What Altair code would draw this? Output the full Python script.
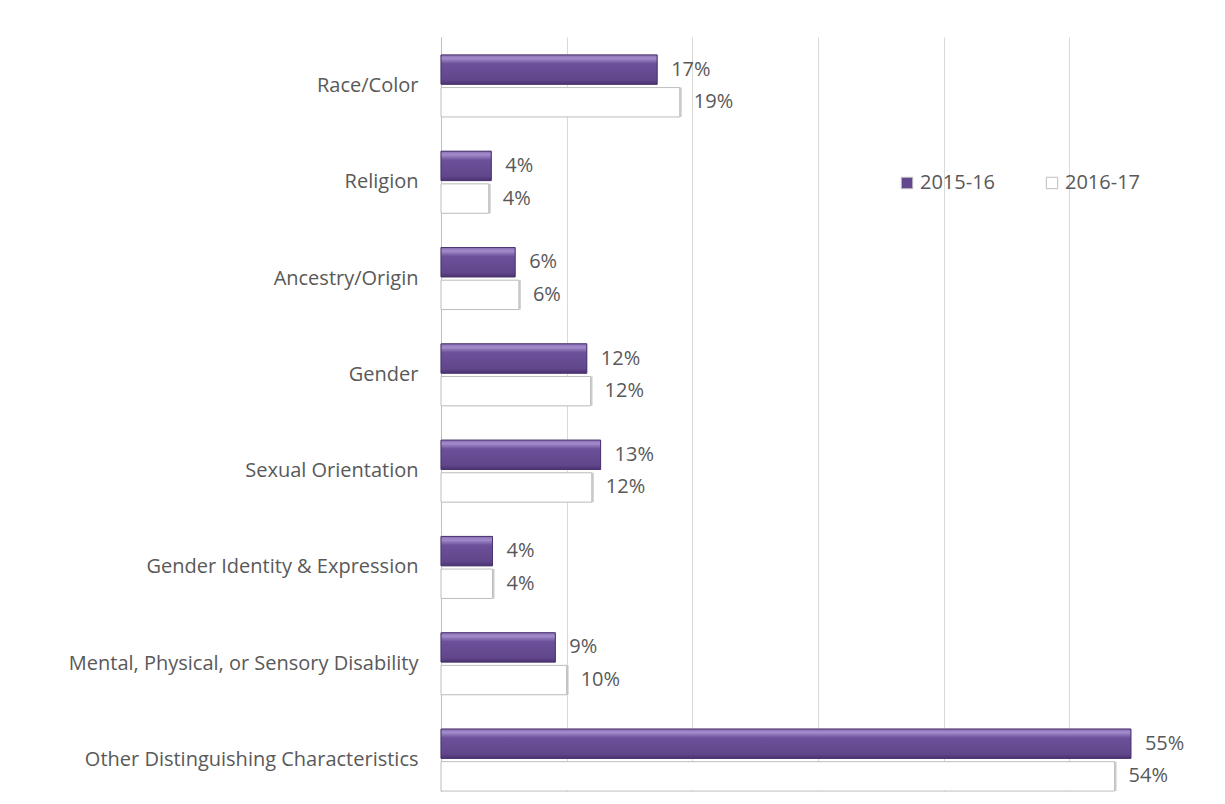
import altair as alt
import pandas as pd

categories = [
    "Race/Color",
    "Religion",
    "Ancestry/Origin",
    "Gender",
    "Sexual Orientation",
    "Gender Identity & Expression",
    "Mental, Physical, or Sensory Disability",
    "Other Distinguishing Characteristics",
]
series = ["2015-16", "2016-17"]
values_2015 = [0.172, 0.040, 0.059, 0.116, 0.127, 0.041, 0.091, 0.549]
values_2016 = [0.190, 0.038, 0.062, 0.119, 0.120, 0.041, 0.100, 0.536]
x_ticks = [0, 0.1, 0.2, 0.3, 0.4, 0.5, 0.6]

rows = []
for c, a, b in zip(categories, values_2015, values_2016):
    rows.append({"cat": c, "series": series[0], "value": a})
    rows.append({"cat": c, "series": series[1], "value": b})
df = pd.DataFrame(rows)

FONT = "Open Sans"
TXT = "#595959"
FS = 20

y_enc = alt.Y(
    "cat:N",
    sort=categories,
    title=None,
    scale=alt.Scale(paddingInner=0.356, paddingOuter=0.098, align=0.95),
    axis=alt.Axis(
        ticks=False,
        domainColor="#bfbfbf",
        labelFont=FONT,
        labelFontSize=FS,
        labelColor=TXT,
        labelPadding=23,
        labelLimit=425,
        minExtent=433,
        maxExtent=433,
    ),
)
yoff_enc = alt.YOffset("series:N", sort=series, scale=alt.Scale(paddingInner=0.1, paddingOuter=0))
x_enc = alt.X(
    "value:Q",
    title=None,
    scale=alt.Scale(domain=[0, 0.6], nice=False),
    axis=alt.Axis(
        values=x_ticks,
        labels=False,
        ticks=False,
        domain=False,
        grid=True,
        gridColor="#d9d9d9",
        gridWidth=1,
        minExtent=0,
        maxExtent=0,
    ),
)

base = alt.Chart(df).encode(y=y_enc, yOffset=yoff_enc, x=x_enc)

shadow = base.transform_filter(alt.datum.series == series[1]).mark_bar(
    color="#bdbdbd", opacity=0.75, xOffset=2, yOffset=4
)

main = base.mark_bar(stroke="#bdbdbd", strokeWidth=1).encode(
    color=alt.Color(
        "series:N",
        sort=series,
        scale=alt.Scale(domain=series, range=["#64488f", "#ffffff"]),
        legend=alt.Legend(
            title=None,
            orient="none",
            direction="horizontal",
            legendX=456,
            legendY=136,
            symbolType="square",
            symbolSize=130,
            symbolStrokeColor="#bdbdbd",
            symbolStrokeWidth=1,
            labelFont=FONT,
            labelFontSize=FS,
            labelColor=TXT,
            columnPadding=46,
            labelOffset=3,
        ),
    )
)

purple_grad = {
    "gradient": "linear",
    "x1": 0, "y1": 0, "x2": 0, "y2": 1,
    "stops": [
        {"offset": 0.0, "color": "#8a6fb6"},
        {"offset": 0.12, "color": "#a28ccb"},
        {"offset": 0.3, "color": "#6c509a"},
        {"offset": 0.85, "color": "#61468b"},
        {"offset": 1.0, "color": "#4a3270"},
    ],
}
overlay = base.transform_filter(alt.datum.series == series[0]).mark_bar(
    color=purple_grad, stroke="#4a3270", strokeWidth=1
)

labels = base.mark_text(
    align="left", baseline="middle", dx=14, font=FONT, fontSize=FS, color=TXT
).encode(text=alt.Text("value:Q", format=".0%"))

chart = (
    alt.layer(shadow, main, overlay, labels)
    .properties(
        width=754,
        height=755,
        padding={"left": 0, "top": 29, "right": 0, "bottom": 0},
    )
    .configure_view(stroke=None)
)

chart.save("out.html", embed_options={"renderer": "svg", "actions": False})
